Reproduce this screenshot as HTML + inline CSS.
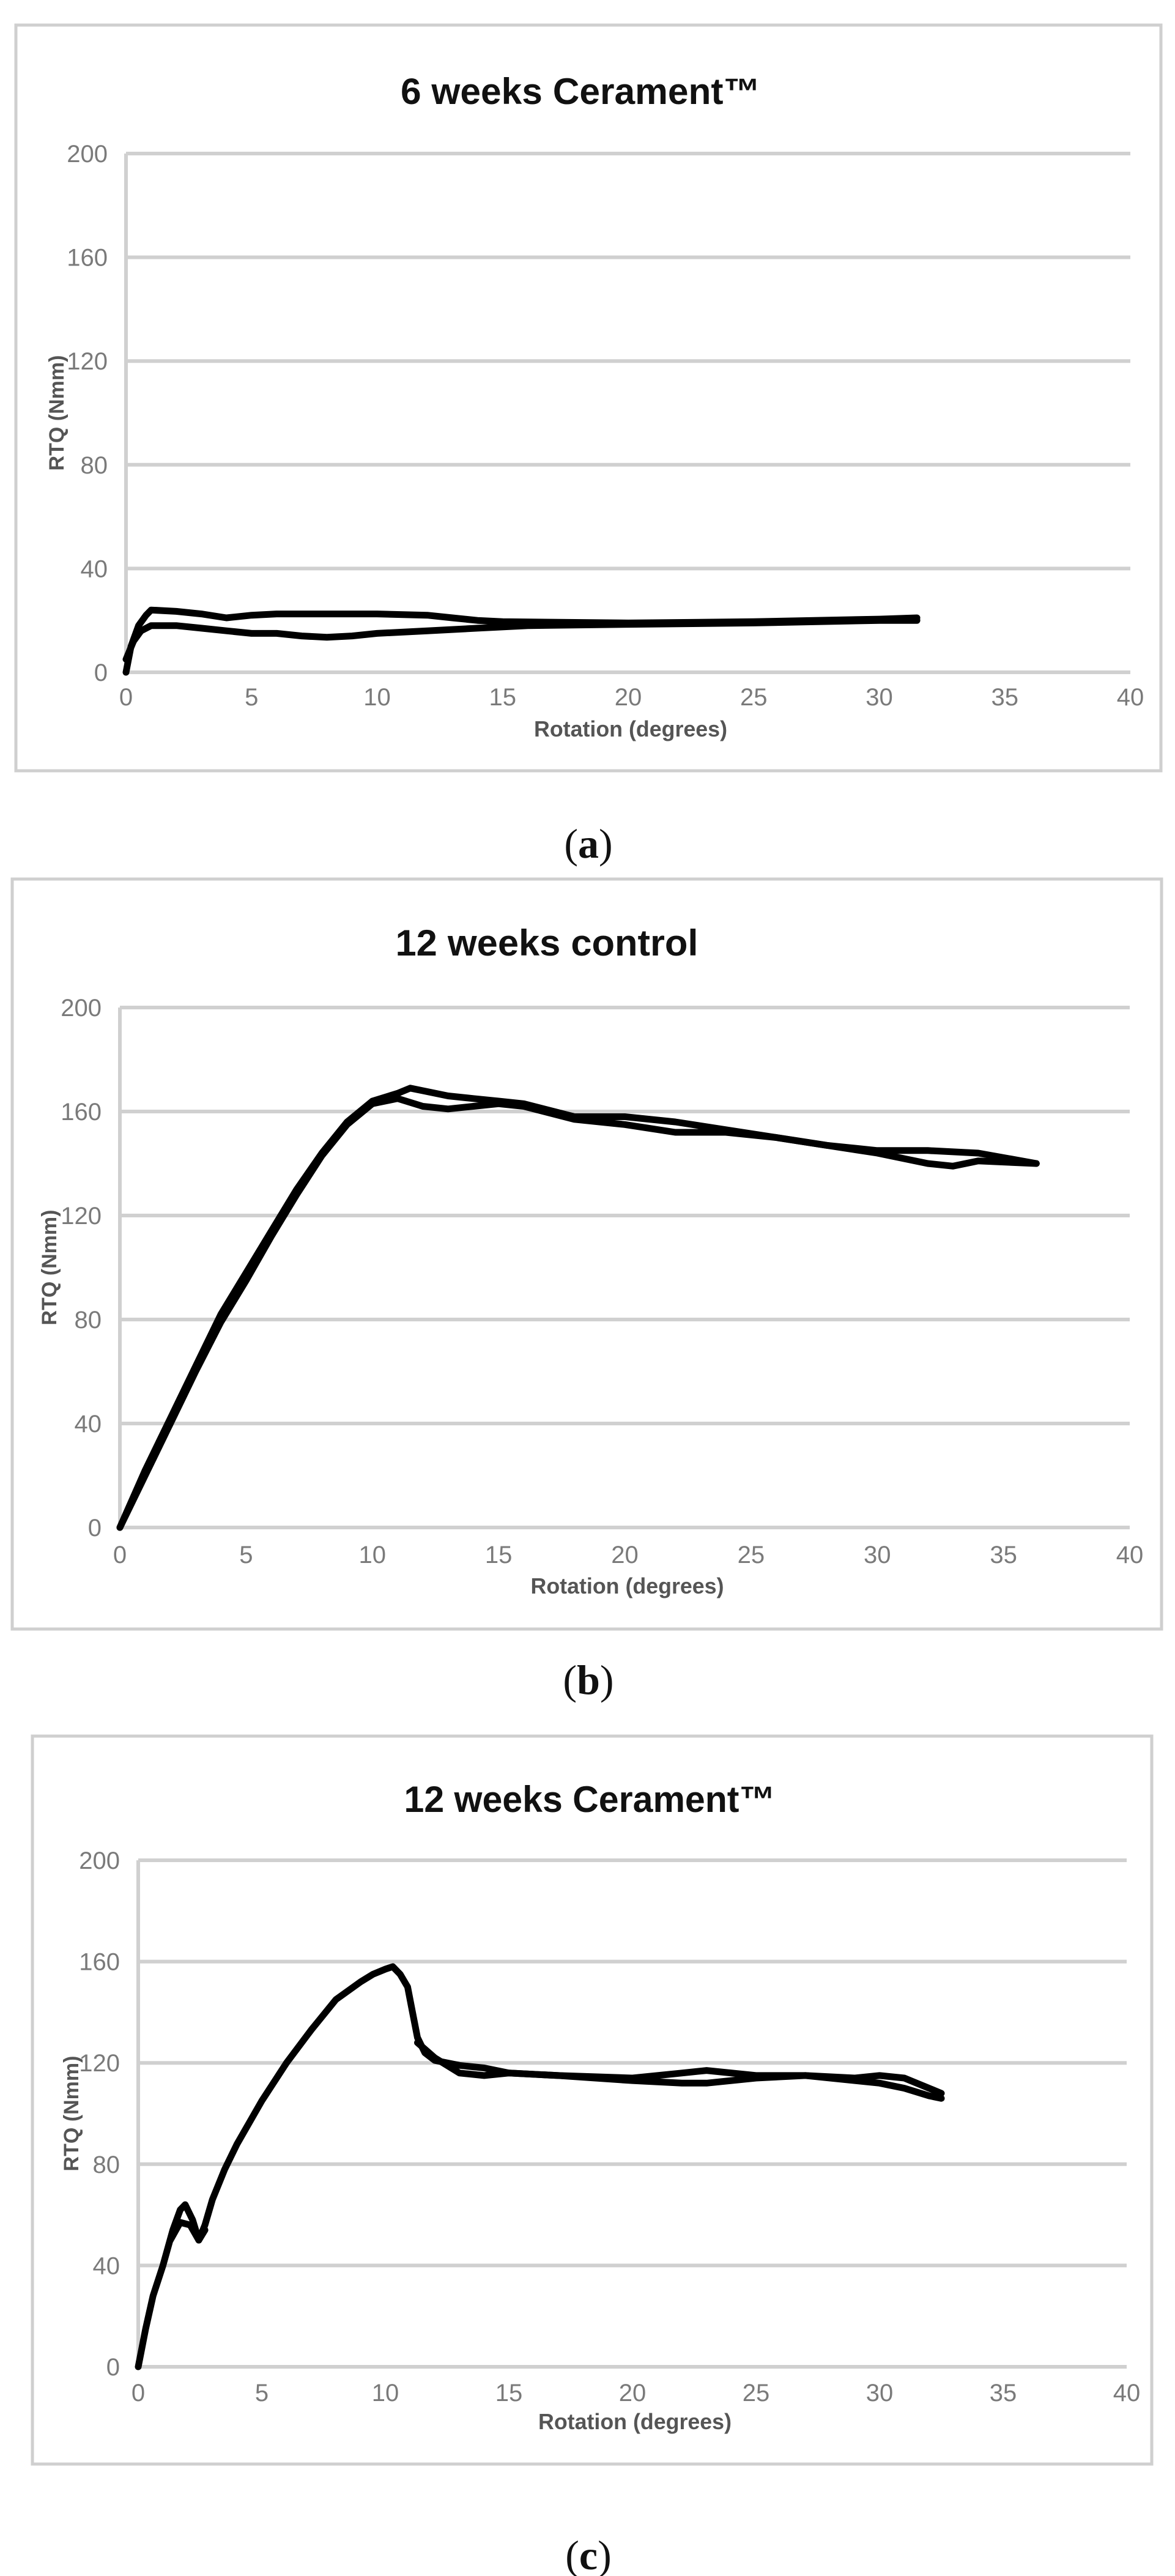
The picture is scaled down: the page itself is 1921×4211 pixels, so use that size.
<!DOCTYPE html>
<html><head><meta charset="utf-8"><style>
html,body{margin:0;padding:0;background:#fff;}
svg{display:block;}
</style></head><body>
<svg id="fig" width="1921" height="4211" viewBox="0 0 1921 4211" xmlns="http://www.w3.org/2000/svg">
<rect x="0" y="0" width="1921" height="4211" fill="#fff"/>
<rect x="26" y="41" width="1872" height="1219" fill="#fff" stroke="#cfcfcf" stroke-width="5"/>
<rect x="20" y="1437" width="1879" height="1226" fill="#fff" stroke="#cfcfcf" stroke-width="5"/>
<rect x="53" y="2838" width="1830" height="1190" fill="#fff" stroke="#cfcfcf" stroke-width="5"/>
<g font-family="Liberation Sans, Arial, sans-serif" font-weight="bold" fill="#111" font-size="60" text-anchor="middle">
<text x="949" y="170" textLength="588" lengthAdjust="spacingAndGlyphs">6 weeks Cerament™</text>
<text x="894" y="1562" textLength="495" lengthAdjust="spacingAndGlyphs">12 weeks control</text>
<text x="964" y="2962" textLength="607" lengthAdjust="spacingAndGlyphs">12 weeks Cerament™</text>
</g>
<g font-family="Liberation Serif, serif" font-size="68" fill="#111" text-anchor="middle">
<text x="962" y="1402">(<tspan font-weight="bold">a</tspan>)</text>
<text x="962" y="2769">(<tspan font-weight="bold">b</tspan>)</text>
<text x="962" y="4200">(<tspan font-weight="bold">c</tspan>)</text>
</g>
<g id="charts"></g>
</svg>
<script>
// ---- data ----
const yTicks = [0, 40, 80, 120, 160, 200];
const xTicks = [0, 5, 10, 15, 20, 25, 30, 35, 40];
const xTitle = "Rotation (degrees)";
const yTitle = "RTQ (Nmm)";

const aUpperX = [0,0.2,0.5,0.8,1,2,3,4,5,6,8,10,12,13,14,15,20,25,30,31.5];
const aUpperY = [0,10,18,22,24,23.5,22.5,21,22,22.5,22.5,22.5,22,21,20,19.5,19,19.5,20.5,21];
const aLowerX = [0,0.3,0.6,1,2,3,4,5,6,7,8,9,10,12,14,16,20,25,30,31.5];
const aLowerY = [5,12,16,18,18,17,16,15,15,14,13.5,14,15,16,17,18,18.5,19,20,20];

const bUpperX = [0,1,2,3,4,5,6,7,8,9,10,11,11.5,12,13,14,15,16,18,20,22,24,26,28,30,32,34,36.3];
const bUpperY = [0,22,42,62,82,98,114,130,144,156,164,167,169,168,166,165,164,163,158,158,156,153,150,147,145,145,144,140];
const bLowerX = [0,1,2,3,4,5,6,7,8,9,10,11,12,13,14,15,16,18,20,22,24,26,28,30,32,33,34,36.3];
const bLowerY = [0,20,40,60,79,95,112,128,143,155,163,165,162,161,162,163,162,157,155,152,152,150,147,144,140,139,141,140];

const cMainX = [0,0.3,0.6,1,1.4,1.7,1.9,2.2,2.45,2.7,3,3.5,4,5,6,7,8,9,9.5,10,10.3,10.6,10.9,11.1,11.3,11.6,12,13,14,15,17,20,22,23,25,27,29,30,31,32,32.5];
const cMainY = [0,15,28,40,54,62,64,58,50,56,66,78,88,105,120,133,145,152,155,157,158,155,150,140,130,124,121,119,118,116,115,113,112,112,114,115,113,112,110,107,106];
const cLoopX = [11.3,12,13,14,15,17,20,22,23,25,27,29,30,31,32,32.5];
const cLoopY = [128,122,116,115,116,115,114,116,117,115,115,114,115,114,110,108];
const cBumpX = [1.3,1.7,2.1,2.45,2.7];
const cBumpY = [50,57,56,50,54];

const NS = "http://www.w3.org/2000/svg";
const root = document.getElementById("charts");
function mk(tag, attrs, parent){
  const e = document.createElementNS(NS, tag);
  for (const k in attrs) e.setAttribute(k, attrs[k]);
  parent.appendChild(e);
  return e;
}
function chart(id, L, R, T, B, xLabY, xTitY, yTitX, series){
  const g = mk("g", {}, root);
  
  
  const sx = v => L + (R - L) * v / 40;
  const sy = v => B - (B - T) * v / 200;
  yTicks.forEach(t => {
    const ln = mk("line", {x1: L, x2: R, y1: sy(t), y2: sy(t), stroke: "#d0d0d0", "stroke-width": 6}, g);
    
    
    const tx = mk("text", {x: L - 30, y: sy(t) + 14, "text-anchor": "end", "font-family": "Liberation Sans, Arial, sans-serif", "font-size": 40, fill: "#7a7a7a"}, g);
    tx.textContent = t;
    
    
  });
  const ax = mk("line", {x1: L, x2: L, y1: T, y2: B, stroke: "#d0d0d0", "stroke-width": 6}, g);
  
  
  xTicks.forEach(t => {
    const tx = mk("text", {x: sx(t), y: xLabY + 14, "text-anchor": "middle", "font-family": "Liberation Sans, Arial, sans-serif", "font-size": 40, fill: "#7a7a7a"}, g);
    tx.textContent = t;
    
    
  });
  const xt = mk("text", {x: (L + R) / 2 + 4, y: xTitY + 12, "text-anchor": "middle", "font-family": "Liberation Sans, Arial, sans-serif", "font-size": 36, "font-weight": "bold", fill: "#555", textLength: 316, lengthAdjust: "spacingAndGlyphs"}, g);
  xt.textContent = xTitle;
  
  
  const cy = (T + B) / 2;
  const yt = mk("text", {x: yTitX, y: cy, "text-anchor": "middle", "font-family": "Liberation Sans, Arial, sans-serif", "font-size": 34, "font-weight": "bold", fill: "#555", transform: "rotate(-90 " + yTitX + " " + cy + ")", dy: 12}, g);
  yt.textContent = yTitle;
  
  
  series.forEach((s, i) => {
    const pts = s[0].map((x, j) => sx(x).toFixed(1) + "," + sy(s[1][j]).toFixed(1)).join(" ");
    const pl = mk("polyline", {points: pts, fill: "none", stroke: "#000", "stroke-width": 11, "stroke-linejoin": "round", "stroke-linecap": "round"}, g);
    
    
  });
}
chart("chart-a", 206, 1848, 251, 1099, 1139, 1192, 92, [[aUpperX, aUpperY], [aLowerX, aLowerY]]);
chart("chart-b", 196, 1847, 1647, 2497, 2541, 2593, 80, [[bUpperX, bUpperY], [bLowerX, bLowerY]]);
chart("chart-c", 226, 1842, 3041, 3869, 3911, 3959, 116, [[cMainX, cMainY], [cLoopX, cLoopY], [cBumpX, cBumpY]]);
</script>
</body></html>
